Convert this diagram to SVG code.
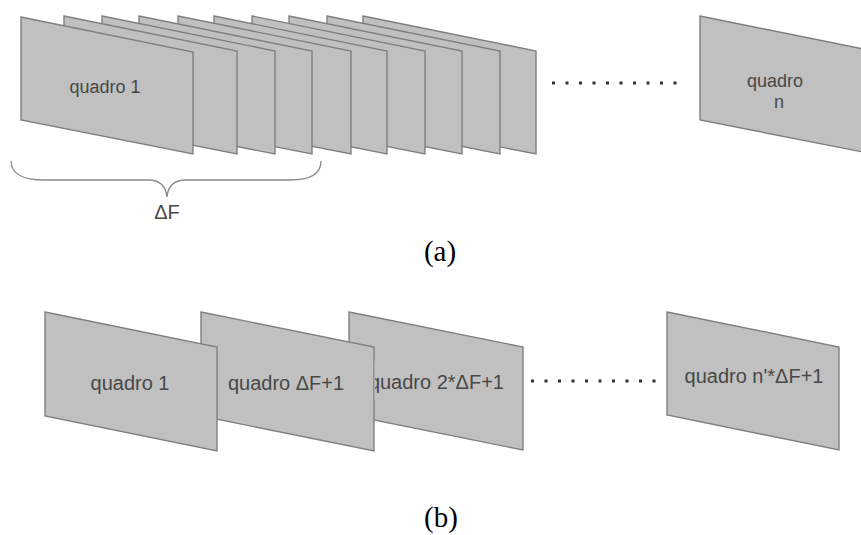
<svg xmlns="http://www.w3.org/2000/svg" xmlns:xlink="http://www.w3.org/1999/xlink" width="861" height="535" viewBox="0 0 861 535">
  <style>
    .frame { fill: #c0c0c0; stroke: #7f7f7f; stroke-width: 1.4; stroke-linejoin: miter; }
    .lbl { font-family: "Liberation Sans", Arial, sans-serif; fill: #484848; text-anchor: middle; }
    .a { font-size: 18px; }
    .b { font-size: 20px; }
    .cap { font-family: "Liberation Serif", "Times New Roman", serif; font-size: 29px; fill: #000; text-anchor: middle; }
    .dot { fill: #333; }
    .brace { fill: none; stroke: #8a8a8a; stroke-width: 1.3; }
  </style>
  <defs>
    <!-- slanted sheet used for every frame -->
    <polygon id="sheet" points="0,0 173,35 173,138 0,104"/>
    <clipPath id="clip3">
      <rect x="375" y="355" width="150" height="50"/>
    </clipPath>
  </defs>

  <rect width="861" height="535" fill="#fff"/>

  <!-- (a) stack of frames, back to front -->
  <g id="stack-a">
    <g id="a-frame10"><use xlink:href="#sheet" class="frame" x="363" y="16"/></g>
    <g id="a-frame9"><use xlink:href="#sheet" class="frame" x="327" y="16"/></g>
    <g id="a-frame8"><use xlink:href="#sheet" class="frame" x="289" y="16"/></g>
    <g id="a-frame7"><use xlink:href="#sheet" class="frame" x="252" y="16"/></g>
    <g id="a-frame6"><use xlink:href="#sheet" class="frame" x="214" y="16"/></g>
    <g id="a-frame5"><use xlink:href="#sheet" class="frame" x="178" y="16"/></g>
    <g id="a-frame4"><use xlink:href="#sheet" class="frame" x="139" y="16"/></g>
    <g id="a-frame3"><use xlink:href="#sheet" class="frame" x="102" y="16"/></g>
    <g id="a-frame2"><use xlink:href="#sheet" class="frame" x="64" y="16"/></g>
    <g id="a-frame1">
      <polygon class="frame" points="21,17 193,52 193,154 21,120"/>
      <text class="lbl a" x="105" y="93">quadro 1</text>
    </g>
  </g>

  <g id="a-framen">
    <use xlink:href="#sheet" class="frame" x="700" y="16"/>
    <text class="lbl a" x="775" y="87">quadro</text>
    <text class="lbl a" x="779" y="108">n</text>
  </g>

  <g id="a-dots">
    <rect class="dot" x="552" y="81.5" width="3" height="3"/>
    <rect class="dot" x="565.5" y="81.5" width="3" height="3"/>
    <rect class="dot" x="579" y="81.5" width="3" height="3"/>
    <rect class="dot" x="592.5" y="81.5" width="3" height="3"/>
    <rect class="dot" x="606" y="81.5" width="3" height="3"/>
    <rect class="dot" x="619.5" y="81.5" width="3" height="3"/>
    <rect class="dot" x="633" y="81.5" width="3" height="3"/>
    <rect class="dot" x="646.5" y="81.5" width="3" height="3"/>
    <rect class="dot" x="660" y="81.5" width="3" height="3"/>
    <rect class="dot" x="673.5" y="81.5" width="3" height="3"/>
  </g>

  <g id="brace">
    <path class="brace" d="M11,161 C11,174 24,180 44,180 L148,180 C160,180 166,186 167,197 C168,186 174,180 186,180 L290,180 C309,180 321,174 321,161"/>
    <text class="lbl" x="167" y="219" font-size="20">ΔF</text>
  </g>

  <text class="cap" x="440" y="261">(a)</text>

  <!-- (b) sampled frames -->
  <g id="b-frame3">
    <polygon class="frame" points="349,312 523,347 523,450 349,415"/>
  </g>
  <g id="b-frame2">
    <polygon class="frame" points="201,312 374,347 374,451 201,416"/>
    <text class="lbl b" x="286" y="390">quadro ΔF+1</text>
  </g>
  <g id="b-frame1">
    <polygon class="frame" points="45,312 217,347 217,451 45,416"/>
    <text class="lbl b" x="130" y="390">quadro 1</text>
  </g>
  <g id="b-frame3-label">
    <rect x="374.5" y="361" width="130" height="39" fill="#c0c0c0"/>
    <text class="lbl b" x="504" y="389" text-anchor="end" style="text-anchor:end" clip-path="url(#clip3)">quadro 2*ΔF+1</text>
  </g>

  <g id="b-dots">
    <rect class="dot" x="531" y="379.5" width="3" height="3"/>
    <rect class="dot" x="544.5" y="379.5" width="3" height="3"/>
    <rect class="dot" x="558" y="379.5" width="3" height="3"/>
    <rect class="dot" x="571.5" y="379.5" width="3" height="3"/>
    <rect class="dot" x="585" y="379.5" width="3" height="3"/>
    <rect class="dot" x="598.5" y="379.5" width="3" height="3"/>
    <rect class="dot" x="612" y="379.5" width="3" height="3"/>
    <rect class="dot" x="625.5" y="379.5" width="3" height="3"/>
    <rect class="dot" x="639" y="379.5" width="3" height="3"/>
    <rect class="dot" x="652.5" y="379.5" width="3" height="3"/>
  </g>

  <g id="b-framen">
    <polygon class="frame" points="667,312 839,347 839,450 667,415"/>
    <text class="lbl b" x="754" y="383">quadro n'*ΔF+1</text>
  </g>

  <text class="cap" x="441" y="527">(b)</text>
</svg>
